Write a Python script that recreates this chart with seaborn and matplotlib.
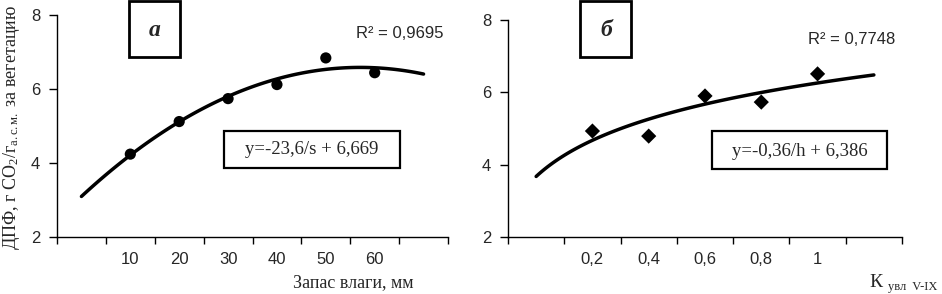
import numpy as np
import pandas as pd
import matplotlib
matplotlib.use("Agg")
import matplotlib.pyplot as plt
import matplotlib.patches as patches
import seaborn as sns

# ---------------- data ----------------
moist_labels = ["10", "20", "30", "40", "50", "60"]          # Запас влаги, мм
moist_dpf = [4.24, 5.12, 5.74, 6.12, 6.84, 6.44]

kuvl_labels = ["0,2", "0,4", "0,6", "0,8", "1"]                # Кувл V-IX
kuvl_dpf = [4.93, 4.79, 5.90, 5.73, 6.51]

y_ticks = [2, 4, 6, 8]

# excel category axis: points sit at category 2.. with an empty category each side
moist_pos = np.arange(len(moist_labels)) + 2
kuvl_pos = np.arange(len(kuvl_labels)) + 2

df_a = pd.DataFrame({"pos": moist_pos, "dpf": moist_dpf})
df_b = pd.DataFrame({"pos": kuvl_pos, "dpf": kuvl_dpf})

# trend lines (polynomial 2 and logarithmic), forecast one category each way
coef_a = np.polyfit(df_a.pos, df_a.dpf, 2)
xa = np.linspace(1, len(moist_labels) + 2, 120)
trend_a = pd.DataFrame({"pos": xa, "dpf": np.polyval(coef_a, xa)})

coef_b = np.polyfit(np.log(df_b.pos), df_b.dpf, 1)
xb = np.linspace(1, len(kuvl_labels) + 2, 120)
trend_b = pd.DataFrame({"pos": xb, "dpf": np.polyval(coef_b, np.log(xb))})

# ---------------- styling ----------------
sns.set_style("ticks")
plt.rcParams["font.family"] = ["Liberation Sans", "DejaVu Sans"]
plt.rcParams["mathtext.fontset"] = "custom"
plt.rcParams["mathtext.rm"] = "Liberation Serif"
plt.rcParams["mathtext.it"] = "Liberation Serif:italic"
serif = ["Liberation Serif", "DejaVu Serif"]

W, H = 942, 294
fig = plt.figure(figsize=(W / 100, H / 100), dpi=100)


def px_box(x0, x1, ytop, ybot):
    return [x0 / W, 1 - ybot / H, (x1 - x0) / W, (ybot - ytop) / H]


ax_a = fig.add_axes(px_box(57, 448, 15, 237))
ax_b = fig.add_axes(px_box(508, 902, 20, 237))


def style_axis(ax, n_cat, labels, pos):
    ax.set_xlim(0.5, n_cat + 0.5)
    ax.set_ylim(2, 8)
    ax.set_xticks(np.arange(0.5, n_cat + 1, 1))
    ax.set_xticklabels([])
    ax.set_xticks(pos, minor=True)
    ax.set_xticklabels(labels, minor=True, fontsize=12)
    ax.tick_params(axis="x", which="minor", length=0, pad=11)
    ax.tick_params(axis="x", which="major", length=5, width=1, color="black")
    ax.set_yticks(y_ticks)
    ax.set_yticklabels([str(t) for t in y_ticks], fontsize=12)
    ax.tick_params(axis="y", length=6, width=1, color="black", pad=6)
    sns.despine(ax=ax)
    for s in ["left", "bottom"]:
        ax.spines[s].set_color("black")
        ax.spines[s].set_linewidth(1)
    ax.set_xlabel("")
    ax.set_ylabel("")


# panel a
sns.lineplot(data=trend_a, x="pos", y="dpf", ax=ax_a, color="black",
             linewidth=2.5, clip_on=False)
sns.scatterplot(data=df_a, x="pos", y="dpf", ax=ax_a, color="black",
                marker="o", s=65, edgecolor="none", clip_on=False, zorder=3)
style_axis(ax_a, len(moist_labels) + 2, moist_labels, moist_pos)

# panel b
sns.lineplot(data=trend_b, x="pos", y="dpf", ax=ax_b, color="black",
             linewidth=2.5, clip_on=False)
sns.scatterplot(data=df_b, x="pos", y="dpf", ax=ax_b, color="black",
                marker="D", s=60, edgecolor="none", clip_on=False, zorder=3)
style_axis(ax_b, len(kuvl_labels) + 2, kuvl_labels, kuvl_pos)


# boxes and texts in pixel coordinates
def fbox(x0, x1, ytop, ybot, lw=1.6):
    fig.patches.append(patches.Rectangle((x0 / W, 1 - ybot / H), (x1 - x0) / W,
                                         (ybot - ytop) / H, transform=fig.transFigure,
                                         fill=False, edgecolor="black", linewidth=lw))


def ftext(x, y, s, **kw):
    fig.text(x / W, 1 - y / H, s, **kw)


fbox(129, 180, 1, 57, lw=2)
ftext(155, 30, "а", family=serif, fontsize=17, weight="bold", style="italic",
      ha="center", va="center")
fbox(580, 631, 1, 57, lw=2)
ftext(606, 30, "б", family=serif, fontsize=17, weight="bold", style="italic",
      ha="center", va="center")

fbox(224, 400, 131, 168)
ftext(312, 150, "y=-23,6/s + 6,669", family=serif, fontsize=13.5, ha="center", va="center")
fbox(712, 887, 131, 169)
ftext(800, 151, "y=-0,36/h + 6,386", family=serif, fontsize=13.5, ha="center", va="center")

ftext(400, 33, "R² = 0,9695", fontsize=12, ha="center", va="center")
ftext(852, 39, "R² = 0,7748", fontsize=12, ha="center", va="center")

ftext(353, 283, "Запас влаги, мм", family=serif, fontsize=13, ha="center", va="center")
ftext(869, 287, "К", family=serif, fontsize=14, ha="left", va="baseline")
ftext(888, 290, "увл  V-IX", family=serif, fontsize=9, ha="left", va="baseline")

ftext(12, 250, "ДПФ, г CO$_2$/г$_{\\mathrm{а.с.м.}}$ за вегетацию", family=serif,
      fontsize=13, rotation=90, ha="center", va="bottom")

fig.savefig("out.png", dpi=100)
